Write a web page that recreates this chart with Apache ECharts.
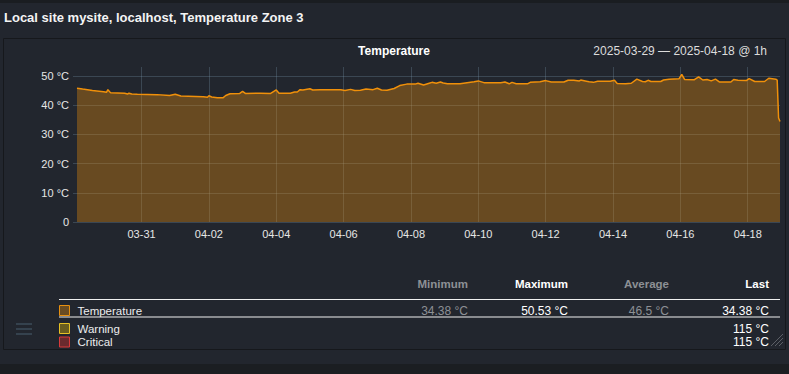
<!DOCTYPE html>
<html>
<head>
<meta charset="utf-8">
<script src="https://cdn.jsdelivr.net/npm/echarts@6/dist/echarts.min.js"></script>
<style>
html,body{margin:0;padding:0;background:#22262e;}
#c{width:789px;height:374px;}
</style>
</head>
<body>
<div id="c"></div>
<script>
// Hours since 2025-03-29 00:00 (hourly samples)
const hours = [2,6,13,21,23,24,26,36,38,39,41,45,59,68,72,76,92,95,96,98,102,106,108,111,118,120,122,133,140,144,146,154,157,159,161,163,168,170,175,190,193,197,200,204,208,213,216,219,223,228,232,237,243,245,249,253,255,258,261,263,266,275,280,285,288,292,304,307,310,312,315,323,325,332,336,340,349,352,356,360,361,365,367,370,373,382,385,387,393,397,401,405,407,409,411,418,420,424,431,433,435,442,445,448,451,454,457,460,468,470,473,479,481,485,492,495,500,501,502,503];
const temps = [45.8,45.5,45.0,44.6,44.4,45.3,44.2,44.1,43.8,44.1,43.8,43.7,43.6,43.3,43.7,43.1,42.9,42.7,43.2,42.8,42.5,42.5,43.3,43.9,44.0,44.7,44.0,44.1,44.0,45.2,44.1,44.1,44.5,44.5,45.3,45.2,45.6,45.2,45.3,45.3,45.0,45.4,45.0,45.1,45.5,45.3,45.8,45.2,45.1,45.7,46.7,47.2,47.2,47.5,46.9,47.5,47.8,47.5,47.9,47.6,47.3,47.3,47.7,48.0,48.3,47.7,47.7,47.9,47.3,47.8,47.3,47.3,47.8,48.0,48.4,47.9,47.9,48.5,48.5,48.3,48.6,48.2,48.0,47.8,48.2,48.2,48.5,47.4,47.3,47.5,48.9,48.1,48.0,48.5,48.1,48.1,48.6,48.9,49.0,50.53,48.8,48.7,49.7,48.6,48.8,48.3,48.9,47.9,47.9,48.8,48.5,48.4,49.1,48.1,48.1,49.2,48.9,48.6,35.6,34.38];
const xRange = [2, 503];
const tickHours = [48,96,144,192,240,288,336,384,432,480];
const tickLabels = ['03-31','04-02','04-04','04-06','04-08','04-10','04-12','04-14','04-16','04-18'];
const yTicks = [0,10,20,30,40,50];
const statHeaders = ['Minimum','Maximum','Average','Last'];
const tempStats = ['34.38 °C','50.53 °C','46.5 °C','34.38 °C'];
const legendNames = ['Temperature','Warning','Critical'];
const thresholdLast = ['115 °C','115 °C'];
const pageTitle = 'Local site mysite, localhost, Temperature Zone 3';
const chartTitle = 'Temperature';
const rangeText = '2025-03-29 — 2025-04-18 @ 1h';

const FONT = '"Liberation Sans", Arial, Helvetica, sans-serif';
const gridColor = 'rgba(120,150,170,0.3)';
const data = hours.map((h, i) => [h, temps[i]]);
const yMax = Math.max(...temps) * 1.05;

function txt(text, x, y, opts) {
  opts = opts || {};
  return {
    type: 'text', silent: true,
    style: {
      text: text, x: x, y: y,
      fill: opts.fill || '#e8e8e8',
      font: (opts.weight || 'normal') + ' ' + (opts.size || 12) + 'px ' + FONT,
      textAlign: opts.align || 'left',
      textVerticalAlign: 'middle'
    }
  };
}
function hline(x1, x2, y, color, w) {
  return { type: 'line', silent: true, shape: {x1: x1, y1: y, x2: x2, y2: y}, style: {stroke: color, lineWidth: w || 1} };
}

const colX = [468, 568, 669, 769];
const colColor = ['#8d9095', '#ffffff', '#8d9095', '#ffffff'];
const swatches = [
  {fill: '#6a4c22', stroke: '#e8900f'},
  {fill: '#6a5e1f', stroke: '#e6c125'},
  {fill: '#6a2a2e', stroke: '#d93a3a'}
];
const rowY = [310.5, 328.5, 342];

const graphics = [];
graphics.push({type: 'rect', silent: true, shape: {x: 0, y: 0, width: 789, height: 3}, style: {fill: '#1a1d21'}});
graphics.push({type: 'rect', silent: true, shape: {x: 0, y: 364, width: 789, height: 10}, style: {fill: '#1b1e22'}});
graphics.push({type: 'rect', silent: true, shape: {x: 3.5, y: 38.5, width: 782, height: 311}, style: {fill: 'none', stroke: '#16181c', lineWidth: 1}});
graphics.push(txt(pageTitle, 4, 17, {weight: 'bold', size: 13, fill: '#f4f4f4'}));
graphics.push(txt(chartTitle, 394, 51, {weight: 'bold', size: 12, align: 'center', fill: '#ffffff'}));
graphics.push(txt(rangeText, 767, 51, {size: 12, align: 'right', fill: '#dcdcdc'}));
statHeaders.forEach((h, i) => graphics.push(txt(h, colX[i], 283.5, {weight: 'bold', size: 11.5, align: 'right', fill: colColor[i]})));
graphics.push(hline(59, 780, 299.5, '#f0f0f0', 1.2));
graphics.push(hline(59, 780, 317, '#f0f0f0', 1.2));
tempStats.forEach((v, i) => graphics.push(txt(v, colX[i], rowY[0], {size: 12, align: 'right', fill: colColor[i]})));
thresholdLast.forEach((v, i) => graphics.push(txt(v, colX[3], rowY[i + 1], {size: 12, align: 'right', fill: '#ffffff'})));
legendNames.forEach((n, i) => {
  graphics.push({type: 'rect', silent: true, shape: {x: 59.5, y: rowY[i] - 5, width: 10, height: 10}, style: {fill: swatches[i].fill, stroke: swatches[i].stroke, lineWidth: 1}});
  graphics.push(txt(n, 77.5, rowY[i], {size: 11.5, fill: '#ededed'}));
});
[324, 329, 334].forEach(y => graphics.push(hline(16, 32, y, '#3a4b57', 1.6)));
[0, 4, 8].forEach(d => graphics.push({type: 'line', silent: true, shape: {x1: 771 + d, y1: 346, x2: 783, y2: 334 + d}, style: {stroke: '#6b6f75', lineWidth: 0.8}}));

const chart = echarts.init(document.getElementById('c'), null, {renderer: 'svg'});
chart.setOption({
  backgroundColor: '#22262e',
  animation: false,
  grid: {left: 77, right: 9, top: 67, bottom: 152, containLabel: false},
  xAxis: {
    type: 'value', min: xRange[0], max: xRange[1],
    axisLine: {show: false},
    axisTick: {show: false, customValues: tickHours},
    splitLine: {show: true, lineStyle: {color: gridColor, width: 1}},
    axisLabel: {
      customValues: tickHours, margin: 6, color: '#e6e6e6', fontSize: 11, fontFamily: FONT,
      formatter: v => tickLabels[tickHours.indexOf(v)] || ''
    }
  },
  yAxis: {
    type: 'value', min: 0, max: yMax,
    axisLine: {show: false},
    axisTick: {show: true, length: 4, customValues: yTicks, lineStyle: {color: gridColor}},
    splitLine: {show: true, lineStyle: {color: gridColor, width: 1}},
    axisLabel: {
      customValues: yTicks, margin: 8, color: '#e6e6e6', fontSize: 11, fontFamily: FONT,
      formatter: v => v === 0 ? '0' : v + ' °C'
    }
  },
  series: [{
    type: 'line', data: data, showSymbol: false, symbol: 'none',
    lineStyle: {color: '#f0900a', width: 1.5},
    areaStyle: {color: 'rgba(240,145,10,0.34)', opacity: 1, origin: 'start'},
    z: 2
  }],
  graphic: graphics
});
</script>
</body>
</html>
